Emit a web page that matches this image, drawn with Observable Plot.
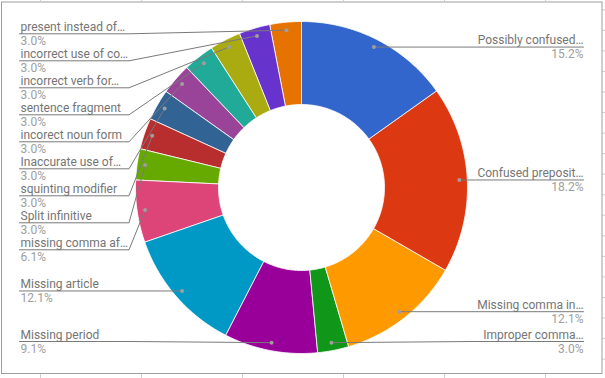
<!DOCTYPE html>
<html>
<head>
<meta charset="utf-8">
<script src="https://cdn.jsdelivr.net/npm/d3@7"></script>
<script src="https://cdn.jsdelivr.net/npm/@observablehq/plot@0.6"></script>
<style>
  html, body { margin: 0; padding: 0; background: #fff; }
  svg { display: block; }
</style>
</head>
<body>
<div id="chart"></div>
<script>
// ---- data ----
const categories = [
  "Possibly confused…", "Confused preposit…", "Missing comma in…", "Improper comma…",
  "Missing period", "Missing article", "missing comma af…", "Split infinitive",
  "squinting modifier", "Inaccurate use of…", "incorect noun form", "sentence fragment",
  "incorrect verb for…", "incorrect use of co…", "present instead of…"
];
const counts = [5, 6, 4, 1, 3, 4, 2, 1, 1, 1, 1, 1, 1, 1, 1];
const palette = [
  "#3366cc", "#dc3912", "#ff9900", "#109618", "#990099", "#0099c6", "#dd4477", "#66aa00",
  "#b82e2e", "#316395", "#994499", "#22aa99", "#aaaa11", "#6633cc", "#e67300"
];

// ---- layout ----
const W = 605, H = 378, CX = 301, CY = 187, R = 166;
const ux = px => (px - CX) / R;
const uy = py => (py - CY) / R;
const HOLE = 0.5, DOT_R = 158 / R, ELBOW = 172.5 / R, LABEL_END = 282 / R;
const GAP = 27 / R, TOP = uy(33.3), BOTTOM = uy(341);

const total = d3.sum(counts);
const arcs = d3.pie().sort(null).value(d => d)(counts);
const fmt = d3.format(".1f");

// slice polygons
const slices = arcs.flatMap((a, i) => {
  const key = categories[i];
  const n = Math.max(2, Math.ceil((a.endAngle - a.startAngle) / (Math.PI / 180)));
  const ts = d3.range(n + 1).map(k => a.startAngle + (a.endAngle - a.startAngle) * k / n);
  const outer = ts.map(t => ({key, x: Math.sin(t), y: -Math.cos(t)}));
  const inner = ts.slice().reverse().map(t => ({key, x: HOLE * Math.sin(t), y: -HOLE * Math.cos(t)}));
  return [...outer, ...inner];
});

// label items
const items = arcs.map((a, i) => {
  const mid = (a.startAngle + a.endAngle) / 2;
  const dx = DOT_R * Math.sin(mid), dy = -DOT_R * Math.cos(mid);
  return {
    key: categories[i],
    pct: fmt(counts[i] / total * 100) + "%",
    side: Math.sin(mid) >= 0 ? 1 : -1,
    dx, dy, ly: dy
  };
});
for (const side of [1, -1]) {
  const s = items.filter(d => d.side === side).sort((a, b) => a.dy - b.dy);
  let prev = -Infinity;
  for (const d of s) { d.ly = Math.max(d.dy, prev + GAP, TOP); prev = d.ly; }
  let next = Infinity;
  for (let k = s.length - 1; k >= 0; k--) { s[k].ly = Math.min(s[k].ly, next - GAP, BOTTOM); next = s[k].ly; }
}
items.forEach(d => { d.lx = d.side * LABEL_END; });
const rightItems = items.filter(d => d.side > 0);
const leftItems = items.filter(d => d.side < 0);

const leaders = items.flatMap(d => [
  {key: d.key, x: d.dx, y: d.dy},
  {key: d.key, x: d.side * ELBOW, y: d.ly},
  {key: d.key, x: d.side * LABEL_END, y: d.ly}
]);

// spreadsheet background grid (outside chart frame)
const colX = d3.range(6).map(i => 40 + 101 * i);
const rowY = d3.range(19).map(i => 9.3 + 20.55 * i);

const font = "Roboto, 'Noto Sans', sans-serif";
const nameText = (data, anchor) => Plot.text(data, {
  x: "lx", y: "ly", text: "key", textAnchor: anchor,
  dx: anchor === "start" ? 1 : 0, dy: -3, lineAnchor: "bottom",
  fill: "#757575", fontSize: 12, fontFamily: font
});
const pctText = (data, anchor) => Plot.text(data, {
  x: "lx", y: "ly", text: "pct", textAnchor: anchor,
  dx: anchor === "start" ? 1 : 0, dy: 11, lineAnchor: "bottom",
  fill: "#9e9e9e", fontSize: 12, fontFamily: font
});

const chart = Plot.plot({
  width: W,
  height: H,
  marginLeft: 1,
  marginTop: 1.5,
  marginRight: 3.5,
  marginBottom: 5,
  x: {domain: [ux(0), ux(W)], range: [0, W], axis: null},
  y: {domain: [uy(0), uy(H)], range: [0, H], axis: null},
  color: {domain: categories, range: palette},
  style: {fontFamily: font, fontSize: "12px", background: "#fff"},
  marks: [
    Plot.ruleX(colX, {x: ux, y1: uy(0), y2: uy(1), stroke: "#cfcfcf"}),
    Plot.ruleX(colX, {x: ux, y1: uy(374), y2: uy(378), stroke: "#cfcfcf"}),
    Plot.ruleY(rowY, {y: uy, x1: ux(602), x2: ux(605), stroke: "#cfcfcf"}),
    Plot.frame({stroke: "#9e9e9e"}),
    Plot.line(slices, {x: "x", y: "y", z: "key", fill: "key", stroke: "#ffffff", strokeWidth: 0.8, curve: "linear-closed"}),
    Plot.line(leaders, {x: "x", y: "y", z: "key", stroke: "#7a7a7a", strokeWidth: 1}),
    Plot.dot(items, {x: "dx", y: "dy", r: 2, fill: "#9e9e9e", stroke: null}),
    nameText(rightItems, "end"),
    nameText(leftItems, "start"),
    pctText(rightItems, "end"),
    pctText(leftItems, "start")
  ]
});
document.getElementById("chart").appendChild(chart);
</script>
</body>
</html>
